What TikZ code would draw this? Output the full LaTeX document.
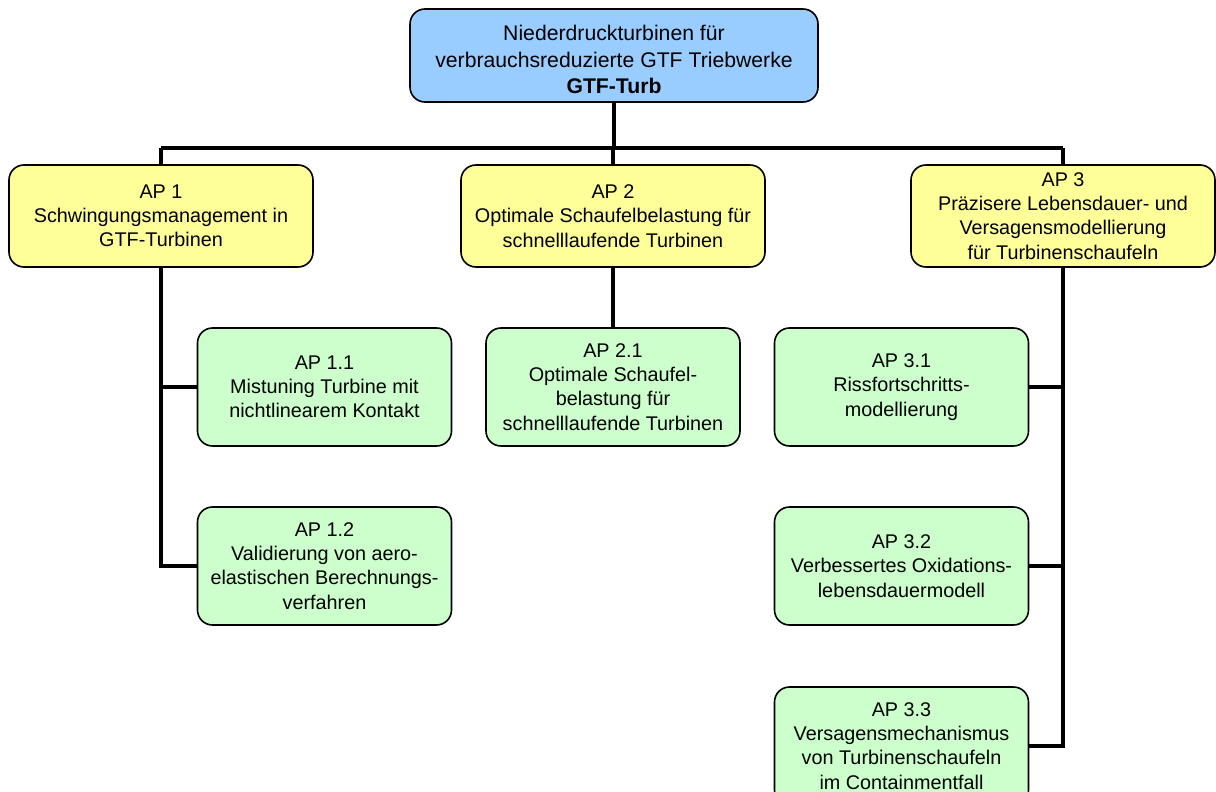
\documentclass[tikz,border=0pt]{standalone}
\usepackage{fontspec}
\setmainfont{Liberation Sans}
\begin{document}
\begin{tikzpicture}[x=0.5pt,y=-0.5pt,
  box/.style={draw=black, line width=0.8pt, rounded corners=7.5pt, align=center, inner sep=0pt,
    font=\fontsize{9.9}{12.1}\selectfont},
  topbox/.style={box, fill=topblue, minimum width=204pt, minimum height=46.5pt,
    font=\fontsize{10.6}{13.25}\selectfont},
  apbox/.style={box, fill=apyellow, minimum width=152pt, minimum height=51pt},
  subbox/.style={box, fill=subgreen, minimum width=127pt, minimum height=59pt},
  conn/.style={line width=2.4pt}
]
\definecolor{topblue}{RGB}{153,204,255}
\definecolor{apyellow}{RGB}{255,255,153}
\definecolor{subgreen}{RGB}{204,255,204}
\useasboundingbox (0,0) rectangle (1216,792);
\clip (0,0) rectangle (1216,792);

\node[topbox] (top) at (614,55.5) {\rule{0pt}{12pt}Niederdruckturbinen für\\verbrauchsreduzierte GTF Triebwerke\\\textbf{GTF-Turb}};

\node[apbox] (ap1) at (161,216) {AP 1\\Schwingungsmanagement in\\GTF-Turbinen};
\node[apbox] (ap2) at (613,216) {AP 2\\Optimale Schaufelbelastung für\\schnelllaufende Turbinen};
\node[apbox] (ap3) at (1063,216) {AP 3\\Präzisere Lebensdauer- und\\Versagensmodellierung\\für Turbinenschaufeln};

\node[subbox] (ap11) at (324.5,387) {AP 1.1\\Mistuning Turbine mit\\nichtlinearem Kontakt};
\node[subbox] (ap12) at (324.5,566) {AP 1.2\\Validierung von aero-\\elastischen Berechnungs-\\verfahren};
\node[subbox] (ap21) at (613,387) {AP 2.1\\Optimale Schaufel-\\belastung für\\schnelllaufende Turbinen};
\node[subbox] (ap31) at (901.5,387) {AP 3.1\\Rissfortschritts-\\modellierung};
\node[subbox] (ap32) at (901.5,566) {AP 3.2\\Verbessertes Oxidations-\\lebensdauermodell};
\node[subbox] (ap33) at (901.5,746) {AP 3.3\\Versagensmechanismus\\von Turbinenschaufeln\\ im Containmentfall};

\coordinate (busL) at (161,148);
\coordinate (busR) at (1063,148);

\draw[conn] (busL) -- (busR);
\draw[conn] (top.south) -- (top.south |- busL);
\draw[conn] (busL) -- (ap1.north);
\draw[conn] (ap2.north |- busL) -- (ap2.north);
\draw[conn] (busR) -- (ap3.north);

\draw[conn] (ap1.south) |- (ap12.west);
\draw[conn] (ap1.south |- ap11.west) -- (ap11.west);
\draw[conn] (ap2.south) -- (ap21.north);
\draw[conn] (ap3.south) |- (ap33.east);
\draw[conn] (ap3.south |- ap31.east) -- (ap31.east);
\draw[conn] (ap3.south |- ap32.east) -- (ap32.east);
\end{tikzpicture}
\end{document}
